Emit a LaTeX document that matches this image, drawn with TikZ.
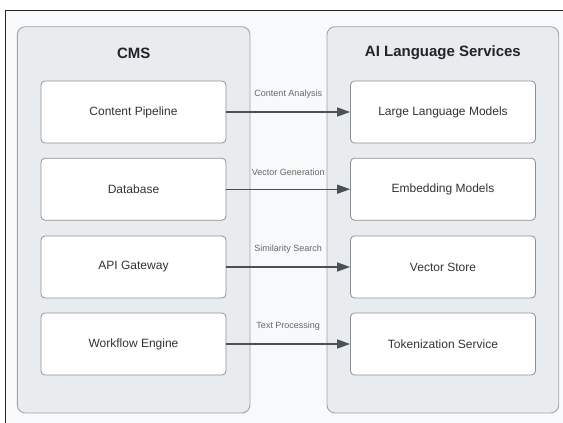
\documentclass[tikz,border=0pt]{standalone}
\usepackage{fontspec}
\setmainfont{Liberation Sans}
\usetikzlibrary{arrows.meta}
\definecolor{framebg}{HTML}{F8F9FA}
\definecolor{contbg}{HTML}{E9ECEF}
\definecolor{contline}{HTML}{A0A4A8}
\definecolor{boxline}{HTML}{8C9096}
\definecolor{arrowc}{HTML}{495057}
\definecolor{titlec}{HTML}{212529}
\definecolor{textc}{HTML}{333333}
\definecolor{labelc}{HTML}{666666}
\tikzset{
  container/.style={draw=contline, fill=contbg, line width=0.9pt, rounded corners=8pt},
  compbox/.style={draw=boxline, fill=white, line width=0.8pt, rounded corners=4pt,
    minimum width=185pt, minimum height=62pt, inner sep=0pt, text=textc,
    font=\fontsize{12}{14}\selectfont},
  title/.style={font=\fontsize{15}{18}\selectfont\bfseries, text=titlec},
  flow/.style={draw=arrowc, line width=1.4pt, -{Triangle[length=13pt,width=9pt]}},
  flowlabel/.style={font=\fontsize{9}{11}\selectfont, text=labelc, inner sep=1pt}
}
\begin{document}
\begin{tikzpicture}[x=1pt,y=-1pt]
\useasboundingbox (0,0) rectangle (563,423);
\begin{scope}
\clip (0,0) rectangle (563,423);
\draw[fill=framebg, draw=black!85, line width=0.9pt] (5.7,10) rectangle (600,460);
\end{scope}
% containers
\draw[container] (17.3,26.7) rectangle (250,413);
\draw[container] (327,26.7) rectangle (558.7,413);
\node[title] (cmst) at (133.7,53) {CMS};
\node[title] (ait) at (442.9,53) {AI Language Services};
% left boxes
\node[compbox] (cp) at (133.5,112) {Content Pipeline};
\node[compbox] (db) at (133.5,189.2) {Database};
\node[compbox] (api) at (133.5,267) {API Gateway};
\node[compbox] (wf) at (133.5,344) {Workflow Engine};
% right boxes
\node[compbox] (llm) at (443,112) {Large Language Models};
\node[compbox] (emb) at (443,189.2) {Embedding Models};
\node[compbox] (vs) at (443,267) {Vector Store};
\node[compbox] (tok) at (443,344) {Tokenization Service};
% arrows
\draw[flow] (cp) -- node[flowlabel, above=12pt] {Content Analysis} (llm);
\draw[flow] (db) -- node[flowlabel, above=12pt] {Vector Generation} (emb);
\draw[flow] (api) -- node[flowlabel, above=12pt] {Similarity Search} (vs);
\draw[flow] (wf) -- node[flowlabel, above=12pt] {Text Processing} (tok);
\end{tikzpicture}
\end{document}
